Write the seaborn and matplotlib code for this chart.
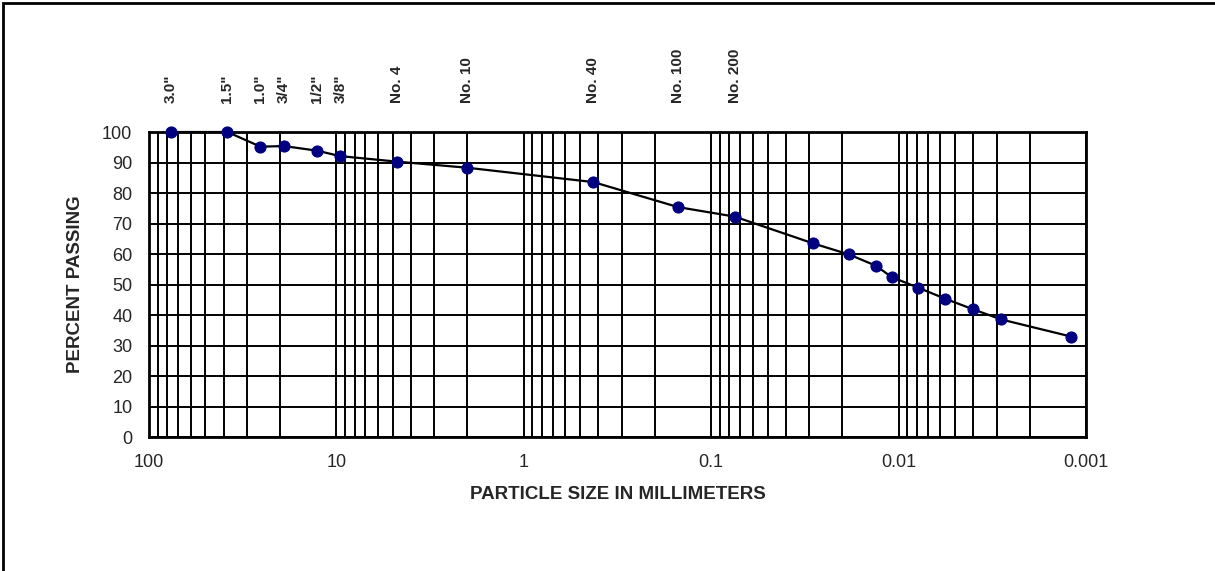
# grain size distribution curve - sieve + hydrometer
import numpy as np
import pandas as pd
import matplotlib
matplotlib.use("Agg")
import matplotlib.pyplot as plt
import matplotlib.ticker as mticker
import matplotlib.transforms as mtransforms
import seaborn as sns

# ------------- data ---------------------------------
grain_size_mm = [76.2, 38.1, 25.4, 19.05, 12.7, 9.525, 4.75, 2.0, 0.425, 0.15, 0.075,
                 0.0285, 0.0184, 0.0132, 0.0109, 0.00785, 0.00564, 0.00403, 0.00283, 0.0012]
percent_passing = [100, 100, 95.2, 95.4, 93.9, 92.1, 90.3, 88.3, 83.6, 75.4, 72.3,
                   63.5, 59.9, 56.2, 52.5, 49.0, 45.4, 42.0, 38.6, 33.0]

sieve_names = ['3.0"', '1.5"', '1.0"', '3/4"', '1/2"', '3/8"', "No. 4", "No. 10", "No. 40", "No. 100", "No. 200"]
sieve_sizes = [76.2, 38.1, 25.4, 19.05, 12.7, 9.525, 4.75, 2.0, 0.425, 0.15, 0.075]

x_ticks = [100, 10, 1, 0.1, 0.01, 0.001]
x_ticklabels = ["100", "10", "1", "0.1", "0.01", "0.001"]
y_ticks = list(range(0, 101, 10))

df = pd.DataFrame({"size": grain_size_mm, "passing": percent_passing})

# ------------- style --------------
sns.set_style("white")
plt.rcParams["font.family"] = ["Liberation Sans", "DejaVu Sans"]

fig = plt.figure(figsize=(12.15, 5.71), dpi=100)
ax = fig.add_axes([0.1226, 0.2341, 0.7712, 0.5347])

sns.lineplot(data=df, x="size", y="passing", sort=False, ax=ax, color="black", linewidth=1.6,
             marker="o", markersize=8, markerfacecolor="#000080", markeredgecolor="#000080",
             zorder=5, clip_on=False)

ax.set_xscale("log")
ax.set_xlim(100, 0.001)
ax.set_ylim(0, 100)

# ---- grid at every log subdivision
ax.xaxis.set_major_locator(mticker.FixedLocator(x_ticks))
ax.xaxis.set_major_formatter(mticker.FixedFormatter(x_ticklabels))
ax.xaxis.set_minor_locator(mticker.LogLocator(base=10, subs=np.arange(2, 10)))
ax.xaxis.set_minor_formatter(mticker.NullFormatter())
ax.set_yticks(y_ticks)
ax.grid(True, which="both", axis="x", color="black", linewidth=1.4)
ax.grid(True, which="major", axis="y", color="black", linewidth=1.4)
ax.tick_params(which="both", length=0)
ax.tick_params(axis="x", labelsize=13, pad=12)
ax.tick_params(axis="y", labelsize=13, pad=12)
for s in ax.spines.values():
    s.set_color("black")
    s.set_linewidth(2)

ax.set_xlabel("PARTICLE SIZE IN MILLIMETERS", fontsize=13.5, fontweight="bold", labelpad=11)
ax.set_ylabel("PERCENT PASSING", fontsize=13.5, fontweight="bold", labelpad=13)

# ---- sieve names above the plot
trans = mtransforms.blended_transform_factory(ax.transData, ax.transAxes)
for name, size in zip(sieve_names, sieve_sizes):
    ax.text(size, 1.095, name, transform=trans, rotation=90, ha="center", va="bottom",
            fontsize=11, fontweight="bold")

# ---- outer frame (left and top visible)
fig.patches.append(plt.Rectangle((3 / 1215, -0.05), 1.2, (571 - 3) / 571 + 0.05, transform=fig.transFigure,
                                 fill=False, edgecolor="black", linewidth=2))

fig.savefig("out.png", dpi=100)
